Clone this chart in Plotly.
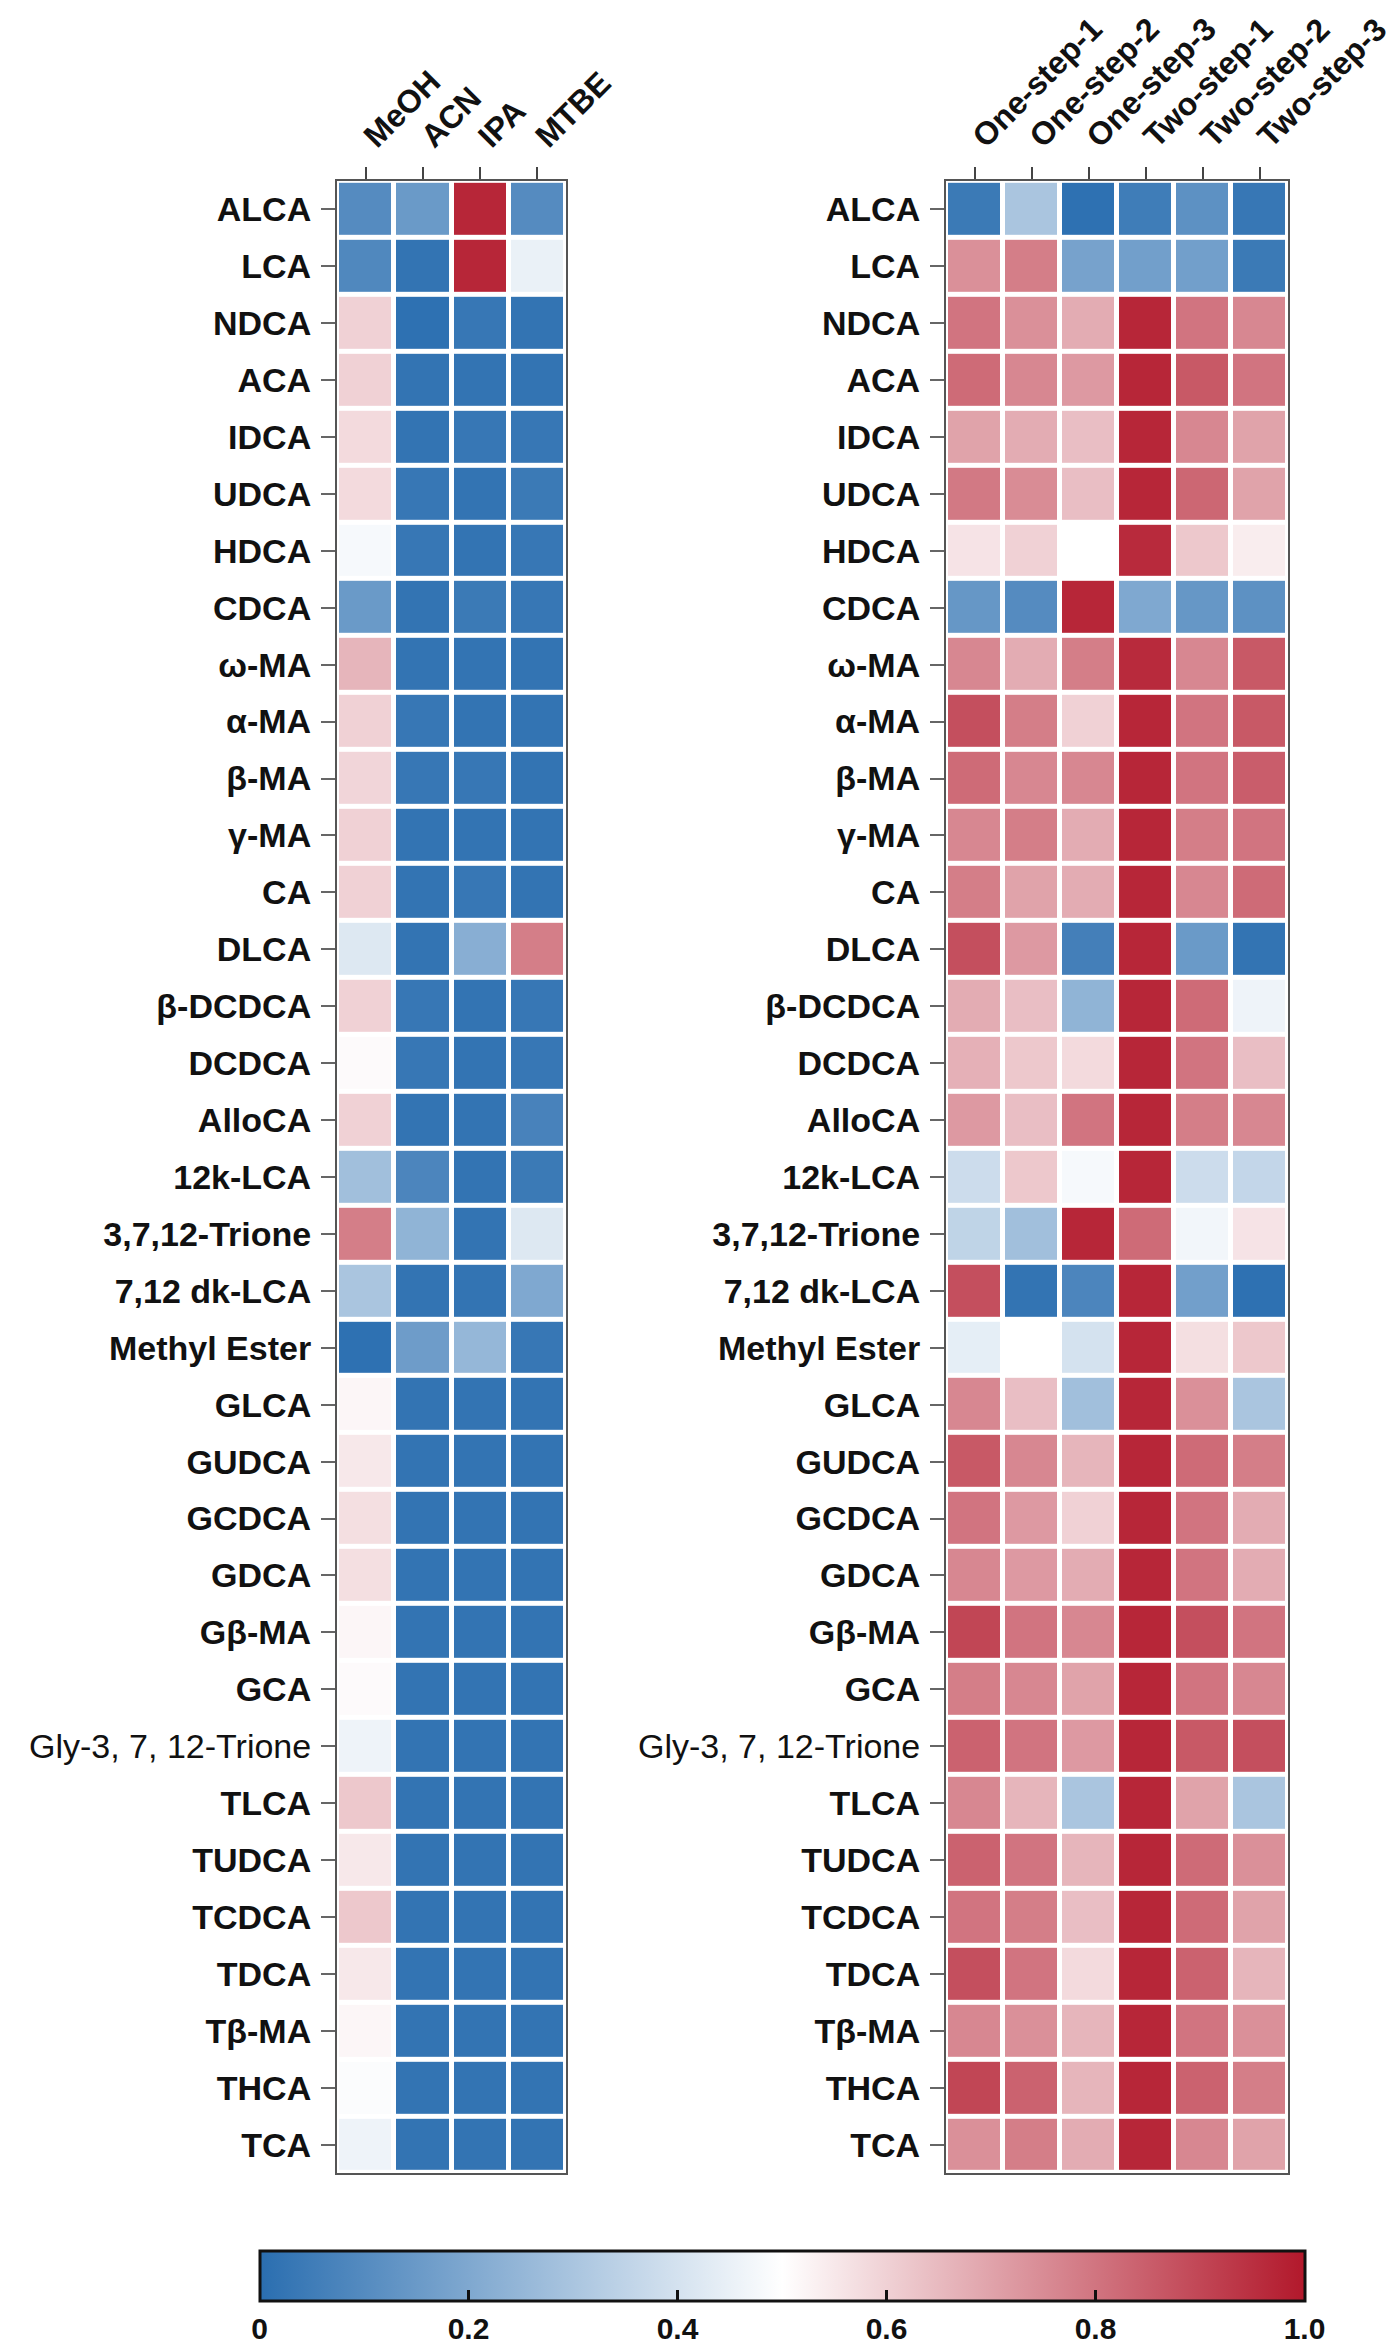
import plotly.graph_objects as go

rows = ["ALCA", "LCA", "NDCA", "ACA", "IDCA", "UDCA", "HDCA", "CDCA", "ω-MA", "α-MA",
        "β-MA", "γ-MA", "CA", "DLCA", "β-DCDCA", "DCDCA", "AlloCA", "12k-LCA",
        "3,7,12-Trione", "7,12 dk-LCA", "Methyl Ester", "GLCA", "GUDCA", "GCDCA", "GDCA",
        "Gβ-MA", "GCA", "Gly-3, 7, 12-Trione", "TLCA", "TUDCA", "TCDCA", "TDCA", "Tβ-MA",
        "THCA", "TCA"]

solvents = ["MeOH", "ACN", "IPA", "MTBE"]
methods = ["One-step-1", "One-step-2", "One-step-3", "Two-step-1", "Two-step-2", "Two-step-3"]

# left panel values (rows x solvents)
solvent_values = [
    [0.10, 0.15, 0.97, 0.10],
    [0.09, 0.02, 0.97, 0.45],
    [0.60, 0.01, 0.03, 0.02],
    [0.60, 0.02, 0.02, 0.02],
    [0.58, 0.02, 0.03, 0.03],
    [0.58, 0.03, 0.02, 0.04],
    [0.48, 0.03, 0.02, 0.03],
    [0.15, 0.02, 0.04, 0.03],
    [0.66, 0.02, 0.02, 0.02],
    [0.60, 0.03, 0.02, 0.02],
    [0.59, 0.03, 0.03, 0.02],
    [0.60, 0.02, 0.02, 0.02],
    [0.60, 0.02, 0.03, 0.02],
    [0.42, 0.02, 0.22, 0.78],
    [0.60, 0.03, 0.02, 0.03],
    [0.51, 0.03, 0.02, 0.03],
    [0.60, 0.02, 0.02, 0.07],
    [0.28, 0.08, 0.02, 0.04],
    [0.78, 0.24, 0.02, 0.42],
    [0.30, 0.02, 0.02, 0.20],
    [0.01, 0.16, 0.25, 0.03],
    [0.52, 0.02, 0.02, 0.02],
    [0.55, 0.02, 0.02, 0.02],
    [0.57, 0.02, 0.02, 0.02],
    [0.57, 0.02, 0.02, 0.02],
    [0.52, 0.02, 0.02, 0.02],
    [0.51, 0.02, 0.02, 0.02],
    [0.46, 0.02, 0.02, 0.02],
    [0.62, 0.02, 0.02, 0.02],
    [0.55, 0.02, 0.02, 0.02],
    [0.62, 0.02, 0.02, 0.02],
    [0.55, 0.02, 0.02, 0.02],
    [0.52, 0.02, 0.02, 0.02],
    [0.49, 0.02, 0.02, 0.02],
    [0.46, 0.02, 0.02, 0.02],
]

# right panel values (rows x methods)
method_values = [
    [0.04, 0.30, 0.01, 0.05, 0.12, 0.03],
    [0.74, 0.78, 0.18, 0.17, 0.17, 0.04],
    [0.80, 0.74, 0.68, 0.97, 0.80, 0.76],
    [0.82, 0.76, 0.72, 0.97, 0.86, 0.80],
    [0.70, 0.68, 0.64, 0.97, 0.76, 0.70],
    [0.79, 0.75, 0.64, 0.97, 0.83, 0.70],
    [0.56, 0.60, 0.50, 0.96, 0.62, 0.54],
    [0.14, 0.10, 0.97, 0.20, 0.14, 0.12],
    [0.76, 0.68, 0.78, 0.96, 0.76, 0.86],
    [0.88, 0.78, 0.60, 0.97, 0.80, 0.86],
    [0.82, 0.76, 0.76, 0.97, 0.80, 0.85],
    [0.76, 0.78, 0.68, 0.97, 0.78, 0.80],
    [0.78, 0.70, 0.68, 0.97, 0.76, 0.82],
    [0.88, 0.72, 0.06, 0.97, 0.15, 0.02],
    [0.68, 0.64, 0.24, 0.97, 0.82, 0.46],
    [0.67, 0.62, 0.58, 0.97, 0.80, 0.64],
    [0.72, 0.64, 0.80, 0.97, 0.78, 0.76],
    [0.38, 0.62, 0.48, 0.97, 0.38, 0.36],
    [0.35, 0.28, 0.97, 0.82, 0.47, 0.56],
    [0.88, 0.02, 0.08, 0.97, 0.17, 0.01],
    [0.44, 0.50, 0.40, 0.97, 0.57, 0.62],
    [0.76, 0.64, 0.28, 0.97, 0.74, 0.30],
    [0.86, 0.76, 0.66, 0.97, 0.82, 0.78],
    [0.80, 0.72, 0.60, 0.97, 0.80, 0.68],
    [0.76, 0.72, 0.68, 0.97, 0.80, 0.68],
    [0.90, 0.80, 0.76, 0.97, 0.88, 0.80],
    [0.78, 0.76, 0.70, 0.97, 0.80, 0.76],
    [0.84, 0.80, 0.72, 0.97, 0.86, 0.88],
    [0.76, 0.66, 0.30, 0.97, 0.70, 0.30],
    [0.84, 0.80, 0.66, 0.97, 0.82, 0.74],
    [0.80, 0.78, 0.64, 0.97, 0.82, 0.70],
    [0.88, 0.80, 0.58, 0.97, 0.84, 0.66],
    [0.76, 0.74, 0.66, 0.97, 0.80, 0.74],
    [0.90, 0.84, 0.66, 0.97, 0.84, 0.78],
    [0.74, 0.78, 0.68, 0.97, 0.76, 0.70],
]

colorbar_ticks = [0, 0.2, 0.4, 0.6, 0.8, 1.0]
colorbar_ticktext = ["0", "0.2", "0.4", "0.6", "0.8", "1.0"]

W, H = 1397, 2351
FONT = "Liberation Sans, Arial, Helvetica, sans-serif"
row_text = [r if r.startswith("Gly") else "<b>%s</b>" % r for r in rows]

fig = go.Figure()
fig.add_trace(go.Heatmap(z=solvent_values, x=solvents, y=rows, coloraxis="coloraxis",
                         xgap=5, ygap=5, xaxis="x", yaxis="y", hoverongaps=False))
fig.add_trace(go.Heatmap(z=method_values, x=methods, y=rows, coloraxis="coloraxis",
                         xgap=5, ygap=5, xaxis="x2", yaxis="y2", hoverongaps=False))

ydom = [1 - 2168 / H, 1 - 173 / H]
common_x = dict(side="top", tickangle=-45, ticks="outside", ticklen=12, tickwidth=2,
                tickcolor="#444", showline=True, linecolor="#555", linewidth=2, mirror=True,
                showgrid=False, zeroline=False, automargin=False,
                tickfont=dict(family=FONT, size=32, color="#111", weight="bold"))
common_y = dict(autorange="reversed", ticks="outside", ticklen=14, tickwidth=2,
                tickcolor="#666", showline=True, linecolor="#555", linewidth=2, mirror=True,
                showgrid=False, zeroline=False, automargin=False, ticklabelstandoff=3,
                tickmode="array", tickvals=rows, ticktext=row_text,
                tickfont=dict(family=FONT, size=34, color="#111"), domain=ydom)

fig.update_layout(
    width=W, height=H,
    margin=dict(l=0, r=0, t=0, b=0),
    paper_bgcolor="white", plot_bgcolor="white",
    xaxis=dict(domain=[329 / W, 558 / W], anchor="y", **common_x),
    yaxis=dict(anchor="x", **common_y),
    xaxis2=dict(domain=[938 / W, 1280 / W], anchor="y2", **common_x),
    yaxis2=dict(anchor="x2", **common_y),
    coloraxis=dict(
        cmin=0, cmax=1,
        colorscale=[[0, "rgb(42,110,176)"], [0.5, "rgb(255,255,255)"], [1, "rgb(178,24,43)"]],
        colorbar=dict(orientation="h", x=774 / W, xanchor="center",
                      y=1 - 2300 / H, yanchor="middle",
                      len=1045, lenmode="pixels", thickness=50,
                      outlinewidth=3, outlinecolor="#111",
                      tickmode="array", tickvals=colorbar_ticks, ticktext=colorbar_ticktext,
                      ticks="inside", ticklen=12, tickwidth=3, tickcolor="#111",
                      tickfont=dict(family="Liberation Sans Narrow, " + FONT, size=30,
                                    color="#111", weight="bold"),
                      xpad=0, ypad=0),
    ),
    showlegend=False,
)

fig.write_html("out.html")
